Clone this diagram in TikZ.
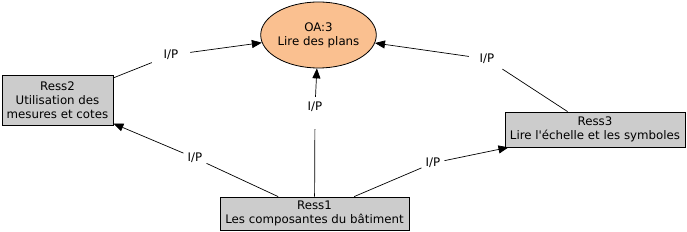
\documentclass[tikz,border=0pt]{standalone}
\usepackage{fontspec}
\setmainfont{DejaVu Sans}
\usepackage{tikz}
\usetikzlibrary{arrows.meta,shapes.geometric}
\usetikzlibrary{positioning}

\definecolor{peach}{RGB}{250,192,144}
\definecolor{boxgray}{RGB}{204,204,204}

\begin{document}
\begin{tikzpicture}[x=1pt,y=-1pt]
	 \tikzstyle{concept}=[draw,line width=0.8pt,fill=boxgray,align=center,inner sep=0pt,font=\fontsize{11.8}{14}\selectfont]
	 \tikzstyle{goal}=[concept,ellipse,fill=peach]
	 \tikzstyle{lbl}=[inner xsep=4pt,inner ysep=5pt,font=\fontsize{11.8}{14}\selectfont]
	 \tikzstyle{edge} = [draw,line width=0.7pt,black]
	 \tikzstyle{arr} = [edge,-{Triangle[length=10pt,width=8pt]}]
	 \useasboundingbox (0,0) rectangle (687,232);
	 % concepts
	 \node[goal,minimum width=111pt,minimum height=66pt] (oa) at (318.5,35) {OA:3\\Lire des plans};
	 \node[concept,minimum width=111pt,minimum height=50pt] (r2) at (57.5,100) {Ress2\\Utilisation des\\mesures et cotes};
	 \node[concept,minimum width=180pt,minimum height=35pt] (r3) at (595,129.5) {Ress3\\Lire l\textquotesingle échelle et les symboles};
	 \node[concept,minimum width=189pt,minimum height=33pt] (r1) at (314.5,213.5) {Ress1\\Les composantes du bâtiment};
	 % linking phrases
	 \node[lbl,minimum width=38pt] (l21) at (171,55) {I/P};
	 \node[lbl,minimum width=36pt] (l31) at (487,59) {I/P};
	 \node[lbl] (l1o) at (315,107) {I/P};
	 \node[lbl] (l12) at (195,158) {I/P};
	 \node[lbl] (l13) at (433,163) {I/P};
	 % links
	 \draw[edge] (r2) -- (l21);
	 \draw[arr] (l21) -- (oa);
	 \draw[edge] (r3) -- (l31);
	 \draw[arr] (l31) -- (oa);
	 \draw[edge,shorten >=12pt] (r1) -- (l1o);
	 \draw[arr] (l1o) -- (oa);
	 \draw[edge] (r1) -- (l12);
	 \draw[arr] (l12) -- (r2);
	 \draw[edge] (r1) -- (l13);
	 \draw[arr] (l13) -- (r3);
\end{tikzpicture}
\end{document}
